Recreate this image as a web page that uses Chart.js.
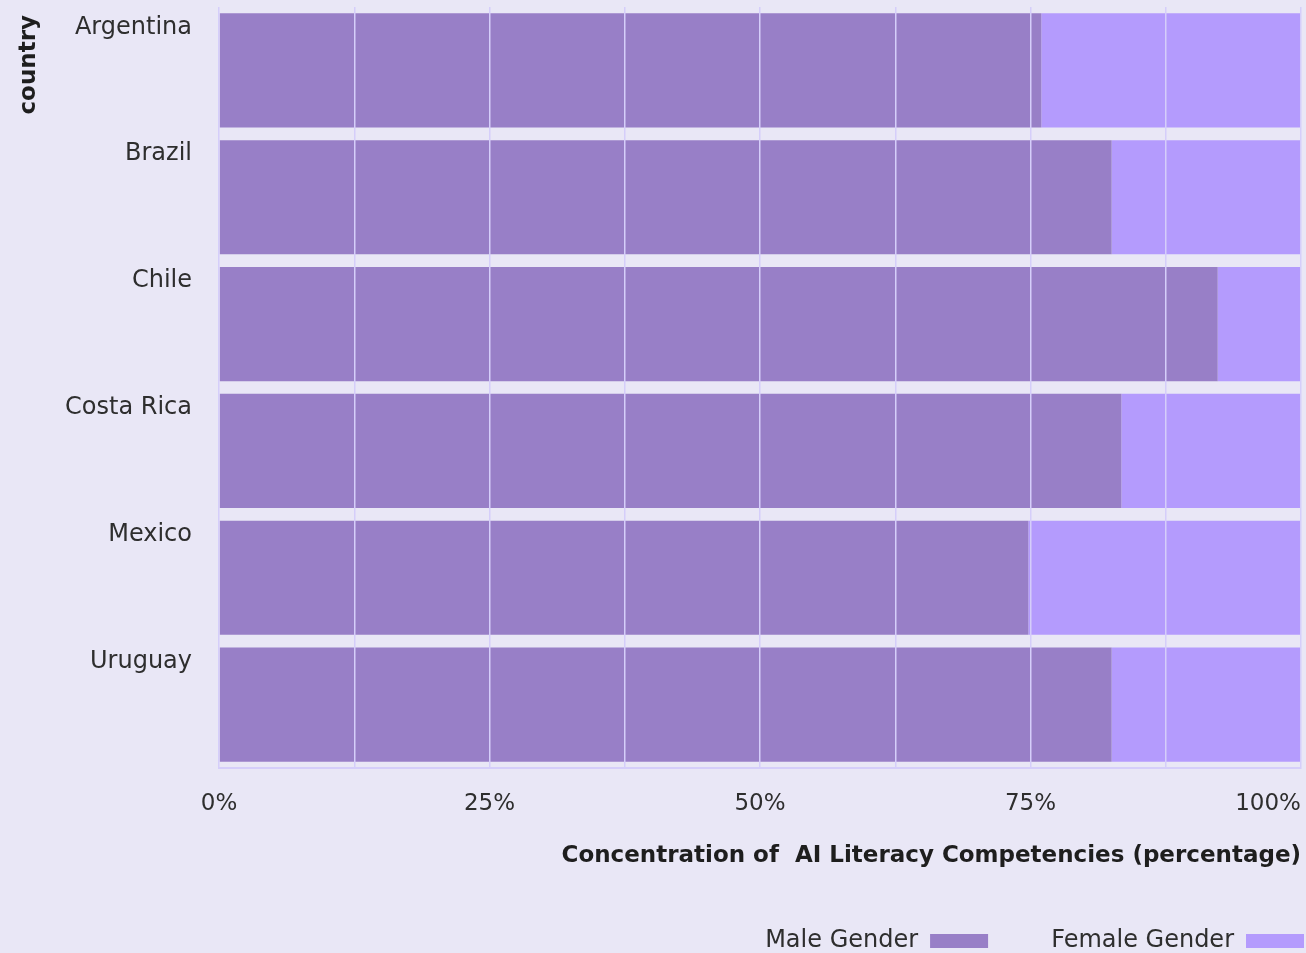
<!DOCTYPE html>
<html>
<head>
<meta charset="utf-8">
<script src="https://cdn.jsdelivr.net/npm/chart.js@4.4.1/dist/chart.umd.min.js"></script>
<style>
  html, body { margin: 0; padding: 0; background: #e9e7f6; }
  #wrap { width: 1306px; height: 953px; position: relative; }
</style>
</head>
<body>
<div id="wrap"><canvas id="chart"></canvas></div>
<script>
const countries = ["Argentina", "Brazil", "Chile", "Costa Rica", "Mexico", "Uruguay"];
const maleShare = [76.0, 82.5, 92.3, 83.4, 74.8, 82.5];
const femaleShare = [24.0, 17.5, 7.7, 16.6, 25.2, 17.5];
const xTicks = [0, 25, 50, 75, 100];

const FONT = "'DejaVu Sans', sans-serif";
const TEXT = "#2e2e2e";
const GRID = "#d5cefa";

// pad the last label so it ends on the last grid line
function tickLabel(value) {
  if (!xTicks.includes(value)) return "";
  if (value === 100) return "100%" + "\u2007\u2007\u2007\u2007 ";
  return value + "%";
}

new Chart(document.getElementById("chart"), {
  type: "bar",
  data: {
    labels: countries,
    datasets: [
      {
        label: "Male Gender",
        data: maleShare,
        backgroundColor: "#987fc7",
        borderWidth: 0,
        barPercentage: 0.9,
        categoryPercentage: 1,
      },
      {
        label: "Female Gender",
        data: femaleShare,
        backgroundColor: "#b49bfd",
        borderWidth: 0,
        barPercentage: 0.9,
        categoryPercentage: 1,
      },
    ],
  },
  options: {
    indexAxis: "y",
    responsive: true,
    maintainAspectRatio: false,
    animation: false,
    layout: { padding: { top: 7, right: 0, left: 0, bottom: -10 } },
    scales: {
      x: {
        stacked: true,
        min: 0,
        max: 100,
        grid: { color: GRID, lineWidth: 1.5, drawTicks: false, z: 1 },
        border: { color: GRID, width: 2, z: 1 },
        ticks: {
          stepSize: 12.5,
          autoSkip: false,
          maxRotation: 0,
          padding: 22,
          color: TEXT,
          font: { family: FONT, size: 23 },
          callback: (value) => tickLabel(value),
        },
        title: {
          display: true,
          text: "Concentration of  AI Literacy Competencies (percentage)",
          align: "end",
          color: "#1e1e1e",
          font: { family: FONT, size: 23, weight: "bold" },
          padding: { top: 20, bottom: 57 },
        },
        afterFit: (scale) => {
          scale.paddingRight = 5;
          scale.height = 159;
        },
      },
      y: {
        stacked: true,
        grid: { display: false, drawTicks: false },
        border: { display: false },
        ticks: {
          padding: 27,
          labelOffset: -43,
          color: TEXT,
          font: { family: FONT, size: 24 },
        },
        title: {
          display: true,
          text: "country ",
          align: "end",
          color: "#1e1e1e",
          font: { family: FONT, size: 23, weight: "bold" },
          padding: { top: 15, bottom: 8 },
        },
        afterFit: (scale) => {
          scale.width = 219;
          scale.paddingTop = 0;
          scale.paddingBottom = 0;
        },
      },
    },
    plugins: {
      legend: {
        position: "bottom",
        align: "start",
        rtl: true,
        reverse: true,
        labels: {
          boxWidth: 58,
          boxHeight: 14,
          padding: 2,
          color: TEXT,
          font: { family: FONT, size: 24 },
          generateLabels: (chart) => {
            const items = Chart.defaults.plugins.legend.labels.generateLabels(chart);
            // extra gap in front of the second entry
            items.forEach((item) => {
              if (item.datasetIndex === 1) item.text = "\u2007\u2007\u2007\u2007" + item.text;
            });
            return items;
          },
        },
      },
      tooltip: { enabled: false },
    },
  },
});
</script>
</body>
</html>
